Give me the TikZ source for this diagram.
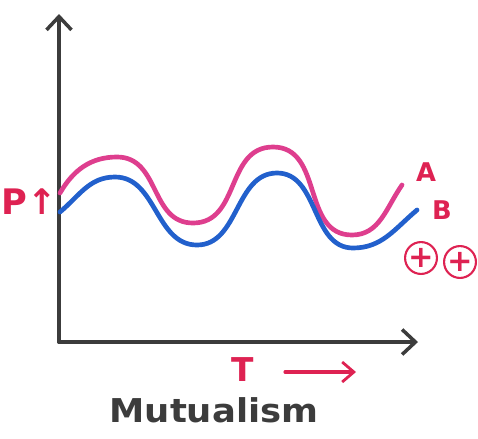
\documentclass[tikz,border=0pt]{standalone}
\usepackage{fontspec}
\setmainfont{DejaVu Sans}
\usetikzlibrary{arrows.meta}
\definecolor{penred}{RGB}{222,34,82}
\definecolor{penpink}{RGB}{222,62,142}
\definecolor{penblue}{RGB}{34,96,204}
\definecolor{pengray}{RGB}{60,60,60}
\tikzset{
  axis/.style={pengray, line width=3.2pt, line cap=round,
    -{Straight Barb[length=4mm,width=7.5mm,line width=3pt]}},
  popcurve/.style={line width=4pt, line cap=round},
  lbl/.style={text=penred, inner sep=0pt},
  plusmark/.style={draw=penred, text=penred, circle, line width=1.8pt,
    inner sep=0pt, minimum size=8mm, font=\fontsize{26}{26}\selectfont\bfseries}
}
\begin{document}
\begin{tikzpicture}[x=0.03cm,y=-0.03cm]
        \useasboundingbox (0,0) rectangle (478,438);
        \coordinate (O) at (59,342);
        \coordinate (Ytop) at (59,14);
        \coordinate (Xend) at (418,342);
        \draw[axis] (O) -- (Ytop);
        \draw[axis] (O) -- (Xend);
        % population curves
        \draw[popcurve, penpink] (60,193) to[out=60,in=180] (117,157)
            to[out=0,in=180,looseness=1.1] (193,223)
            to[out=0,in=180,looseness=1.1] (273,147)
            to[out=0,in=180,looseness=1.1] (352,235)
            to[out=0,in=235] (402,185);
        \draw[popcurve, penblue] (60,212) to[out=40,in=180] (115,177)
            to[out=0,in=180] (197,245)
            to[out=0,in=180] (277,173)
            to[out=0,in=180] (353,248)
            to[out=0,in=220] (417,210);
        % labels
        \node[lbl, font=\fontsize{30}{30}\selectfont\bfseries] (P) at (29,202) {P↑};
        \node[lbl, font=\fontsize{22}{22}\selectfont\bfseries] (A) at (426,172) {A};
        \node[lbl, font=\fontsize{22}{22}\selectfont\bfseries] (B) at (442,210) {B};
        \node[plusmark] (plusA) at (421,258) {+};
        \node[plusmark] (plusB) at (460,262) {+};
        \node[lbl, font=\fontsize{28}{28}\selectfont\bfseries] (T) at (243,370) {T};
        \coordinate (Tarrow) at (285,372);
        \coordinate (Tend) at (356,372);
        \draw[penred, line width=2.6pt, line cap=round,
            -{Straight Barb[length=3.5mm,width=6mm,line width=2.4pt]}] (Tarrow) -- (Tend);
        \node[text=pengray, font=\fontsize{28}{28}\selectfont\bfseries, xscale=1.08] (title) at (214,410) {Mutualism};
    \end{tikzpicture}
\end{document}
